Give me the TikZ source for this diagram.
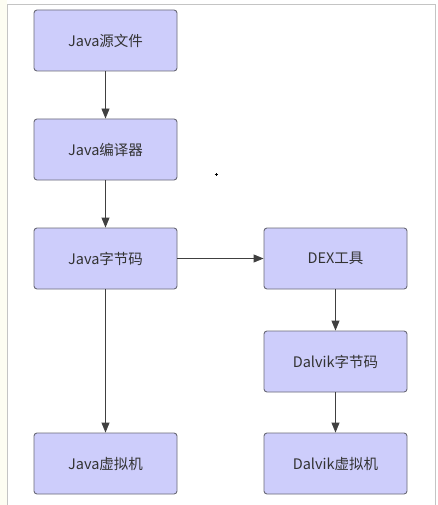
\documentclass[tikz,border=0pt]{standalone}
\usepackage{fontspec}
\newfontfamily\cjk{Noto Sans CJK SC}
\usetikzlibrary{arrows.meta}
\definecolor{boxfill}{HTML}{CDCDFB}
\definecolor{boxline}{HTML}{6A6A78}
\definecolor{arrowc}{HTML}{404040}
\definecolor{framec}{HTML}{C4C4C4}
\definecolor{margin}{HTML}{FDFDF2}
\begin{document}
\begin{tikzpicture}[x=1pt,y=-1pt,
  stagebox/.style={draw=boxline, fill=boxfill, line width=0.9pt, rounded corners=3pt,
    minimum width=143pt, minimum height=61pt, inner sep=0pt,
    font=\cjk\fontsize{14.5}{17}\selectfont, text=black!80},
  flow/.style={draw=arrowc, line width=0.9pt, -{Triangle[length=10pt,width=8pt]}}]
\useasboundingbox (0,0) rectangle (437,505);
\fill[margin] (0,0) rectangle (7,505);
\fill[white] (7,5) rectangle (437,505);
\draw[framec, line width=1pt] (7,505) -- (7,5) -- (435,5) -- (435,505);
\node[stagebox] (src) at (105.5,40.5) {Java源文件};
\node[stagebox] (javac) at (105.5,149.5) {Java编译器};
\node[stagebox] (jbc) at (105.5,258.5) {Java字节码};
\node[stagebox] (jvm) at (105.5,463.5) {Java虚拟机};
\node[stagebox] (dex) at (335.5,258.5) {DEX工具};
\node[stagebox] (dbc) at (335.5,361.5) {Dalvik字节码};
\node[stagebox] (dvm) at (335.5,463.5) {Dalvik虚拟机};
\draw[flow] (src) -- (javac);
\draw[flow] (javac) -- (jbc);
\draw[flow] (jbc) -- (jvm);
\draw[flow] (jbc) -- (dex);
\draw[flow] (dex) -- (dbc);
\draw[flow] (dbc) -- (dvm);
\coordinate (mark) at (216,174);
\draw[black, line width=0.8pt] ([xshift=-1.5pt]mark) -- ([xshift=1.5pt]mark) ([yshift=-1.5pt]mark) -- ([yshift=1.5pt]mark);
\end{tikzpicture}
\end{document}
